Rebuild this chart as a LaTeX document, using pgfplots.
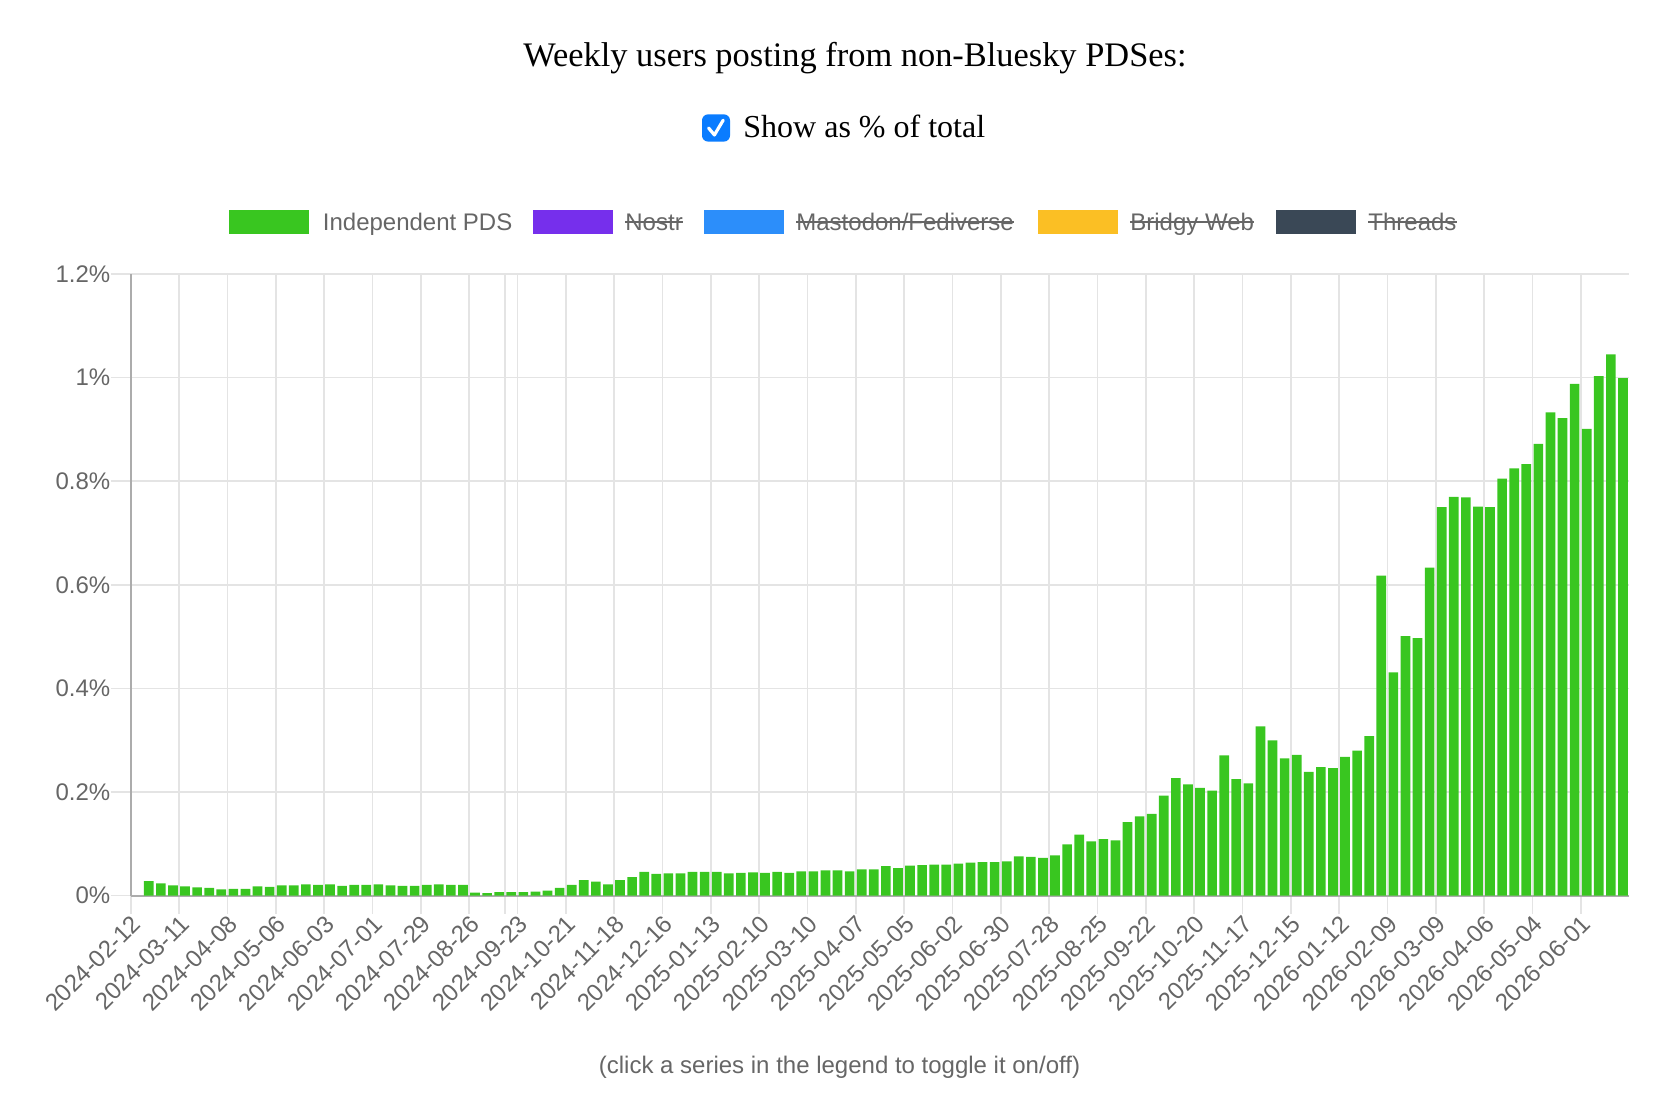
\documentclass[border=0pt]{standalone}
\usepackage{pgfplots}
\pgfplotsset{compat=1.18}
\usepackage{fontspec}
\setmainfont{Liberation Serif}
\newfontfamily\sansf{Liberation Sans}
\definecolor{bargreen}{RGB}{57,198,32}
\definecolor{nostr}{RGB}{118,47,236}
\definecolor{masto}{RGB}{44,142,250}
\definecolor{bridgy}{RGB}{251,191,36}
\definecolor{threads}{RGB}{58,72,86}
\definecolor{labelgray}{RGB}{102,102,102}
\definecolor{gridgray}{RGB}{228,228,228}
\definecolor{axisgray}{RGB}{172,172,172}
\definecolor{cbblue}{RGB}{10,124,255}
\begin{document}
\begin{tikzpicture}[x=1bp,y=1bp]
\path[use as bounding box] (0,0) rectangle (840,556);
\begin{axis}[
  at={(65.35bp,108.15bp)}, anchor=south west,
  scale only axis, width=749.15bp, height=310.85bp,
  xmin=-0.5, xmax=123.5, ymin=0, ymax=1.2,
  axis x line*=bottom, axis y line*=left,
  axis line style={draw=axisgray, line width=1bp},
  tick align=outside,
  major tick length=10bp, minor tick length=9bp,
  tick style={draw=gridgray, line width=0.8bp},
  major x tick style={draw=none},
  grid style={draw=gridgray, line width=0.8bp},
  minor grid style={draw=gridgray, line width=0.8bp},
  ymajorgrids=true, xmajorgrids=false, xminorgrids=true,
  ytick={0,0.2,0.4,0.6,0.8,1,1.2},
  yticklabels={0\%,0.2\%,0.4\%,0.6\%,0.8\%,1\%,1.2\%},
  yticklabel style={font=\sansf\fontsize{12bp}{14bp}\selectfont, text=labelgray, anchor=east, inner sep=0pt},
  xtick={0,4,8,12,16,20,24,28,32,36,40,44,48,52,56,60,64,68,72,76,80,84,88,92,96,100,104,108,112,116,120},
  xticklabels={2024-02-12,2024-03-11,2024-04-08,2024-05-06,2024-06-03,2024-07-01,2024-07-29,2024-08-26,2024-09-23,2024-10-21,2024-11-18,2024-12-16,2025-01-13,2025-02-10,2025-03-10,2025-04-07,2025-05-05,2025-06-02,2025-06-30,2025-07-28,2025-08-25,2025-09-22,2025-10-20,2025-11-17,2025-12-15,2026-01-12,2026-02-09,2026-03-09,2026-04-06,2026-05-04,2026-06-01},
  xticklabel style={font=\sansf\fontsize{12bp}{14bp}\selectfont, text=labelgray, anchor=east, inner sep=0pt, yshift=-2bp, rotate=45},
  minor xtick={-0.5,3.5,7.5,11.5,15.5,19.5,23.5,27.5,30.5,31.5,35.5,39.5,43.5,47.5,51.5,55.5,59.5,63.5,67.5,71.5,75.5,79.5,83.5,87.5,91.5,95.5,99.5,103.5,107.5,111.5,115.5,119.5},
]
\addplot[ybar, bar width=0.8, fill=bargreen, draw=none] coordinates {
(1,0.028) (2,0.024) (3,0.020) (4,0.018) (5,0.016) (6,0.015) (7,0.012) (8,0.013) (9,0.013) (10,0.018)
(11,0.017) (12,0.020) (13,0.020) (14,0.022) (15,0.021) (16,0.022) (17,0.019) (18,0.021) (19,0.021) (20,0.022)
(21,0.020) (22,0.019) (23,0.019) (24,0.021) (25,0.022) (26,0.021) (27,0.021) (28,0.006) (29,0.005) (30,0.007)
(31,0.007) (32,0.007) (33,0.008) (34,0.010) (35,0.015) (36,0.021) (37,0.030) (38,0.027) (39,0.022) (40,0.030)
(41,0.036) (42,0.046) (43,0.042) (44,0.043) (45,0.043) (46,0.046) (47,0.046) (48,0.046) (49,0.043) (50,0.044)
(51,0.045) (52,0.044) (53,0.046) (54,0.044) (55,0.047) (56,0.047) (57,0.049) (58,0.049) (59,0.047) (60,0.051)
(61,0.051) (62,0.057) (63,0.053) (64,0.058) (65,0.059) (66,0.060) (67,0.060) (68,0.062) (69,0.064) (70,0.065)
(71,0.065) (72,0.066) (73,0.076) (74,0.075) (75,0.073) (76,0.078) (77,0.099) (78,0.118) (79,0.105) (80,0.109)
(81,0.107) (82,0.142) (83,0.153) (84,0.158) (85,0.193) (86,0.227) (87,0.215) (88,0.208) (89,0.203) (90,0.271)
(91,0.225) (92,0.217) (93,0.327) (94,0.300) (95,0.265) (96,0.272) (97,0.239) (98,0.248) (99,0.246) (100,0.268)
(101,0.280) (102,0.308) (103,0.618) (104,0.431) (105,0.501) (106,0.497) (107,0.633) (108,0.750) (109,0.770) (110,0.769)
(111,0.751) (112,0.750) (113,0.805) (114,0.825) (115,0.833) (116,0.872) (117,0.933) (118,0.922) (119,0.988) (120,0.901)
(121,1.003) (122,1.045) (123,0.999)
};
\end{axis}
% title and checkbox
\node[anchor=base, inner sep=0pt, font=\fontsize{17.2bp}{20bp}\selectfont] at (427.5,522.5) {Weekly users posting from non-Bluesky PDSes:};
\fill[cbblue, rounded corners=3bp] (351,485.2) rectangle (365,498.8);
\draw[white, line width=1.6bp, line cap=round, line join=round] (354.3,492.0) -- (357.2,488.5) -- (361.6,495.9);
\node[anchor=base west, inner sep=0pt, font=\fontsize{16bp}{19bp}\selectfont] at (371.5,487) {Show as \% of total};
% legend
\tikzset{lab/.style={inner sep=0pt, text=labelgray, font=\sansf\fontsize{12bp}{14bp}\selectfont}}
\coordinate (s) at (0,445.1);
\fill[bargreen] (114.6,439.1) rectangle (154.6,451.1);
\node[lab, anchor=base west] (l1) at (161.25,440.8) {Independent PDS};
\fill[nostr] (266.25,439.1) rectangle (306.25,451.1);
\node[lab, anchor=base west] (l2) at (312.5,440.8) {Nostr};
\draw[labelgray, line width=1bp] (l2.west |- s) -- (l2.east |- s);
\fill[masto] (352,439.1) rectangle (392,451.1);
\node[lab, anchor=base west] (l3) at (398,440.8) {Mastodon/Fediverse};
\draw[labelgray, line width=1bp] (l3.west |- s) -- (l3.east |- s);
\fill[bridgy] (519,439.1) rectangle (559,451.1);
\node[lab, anchor=base west] (l4) at (565,440.8) {Bridgy Web};
\draw[labelgray, line width=1bp] (l4.west |- s) -- (l4.east |- s);
\fill[threads] (638,439.1) rectangle (678,451.1);
\node[lab, anchor=base west] (l5) at (684,440.8) {Threads};
\draw[labelgray, line width=1bp] (l5.west |- s) -- (l5.east |- s);
% footer
\node[lab, anchor=base] at (419.75,19.25) {(click a series in the legend to toggle it on/off)};
\end{tikzpicture}
\end{document}
